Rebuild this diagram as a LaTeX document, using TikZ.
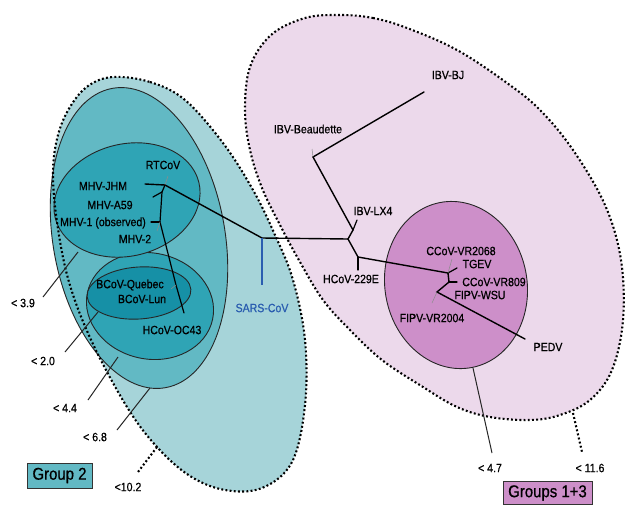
\documentclass[tikz,border=0pt]{standalone}
\usepackage{fontspec}
\setmainfont[FakeStretch=0.88,FakeBold=0.7]{Liberation Sans}
\definecolor{gtout}{HTML}{A6D4D9}
\definecolor{gtsix}{HTML}{62B9C4}
\definecolor{gtfour}{HTML}{2FA4B5}
\definecolor{gtmhv}{HTML}{2FA4B5}
\definecolor{gttwo}{HTML}{1690A6}
\definecolor{goout}{HTML}{ECD9EB}
\definecolor{goin}{HTML}{CD8FC9}
\definecolor{sarsblue}{HTML}{2A5DB0}
\begin{document}
\begin{tikzpicture}[x=1pt,y=-1pt,
  lbl/.style={font=\fontsize{12}{13}\selectfont,inner sep=0pt},
  thr/.style={font=\fontsize{12}{13}\selectfont,inner sep=0pt},
  grp/.style={font=\fontsize{17}{19}\selectfont,draw=black!80,line width=0.9pt,inner sep=0pt},
  branch/.style={line width=1.4pt,line cap=round},
  tick/.style={line width=0.5pt,draw=black!45},
  ring/.style={draw=black!85,line width=0.9pt},
  dotring/.style={draw=black,line width=2.1pt,dash pattern=on 1.9pt off 2.3pt},
  leader/.style={draw=black!85,line width=1pt},
  dotleader/.style={draw=black,line width=2.1pt,dash pattern=on 1.9pt off 2.3pt}]
\useasboundingbox (0,0) rectangle (626,504);
\fill[white] (0,0) rectangle (626,504);

% ---------- Group 2 regions ----------
\fill[gtout] plot[smooth cycle,tension=0.6] coordinates {
 (113,77) (150,82) (185,100) (223,143) (253,190) (275,235) (293,280) (305,340)
 (305,405) (292,462) (262,488) (225,490) (190,476) (157,447) (127,407)
 (92,342) (69,282) (57,222) (53,172) (58,135) (70,107) (88,86)};
\filldraw[ring,fill=gtsix,rotate around={10:(139,238)}] (139,238) ellipse [x radius=86, y radius=152];
\filldraw[ring,fill=gtfour,rotate around={-12:(150,306)}] (150,306) ellipse [x radius=64, y radius=53];
\filldraw[ring,fill=gtmhv,rotate around={14:(127,200)}] (127,200) ellipse [x radius=74, y radius=56];
\filldraw[ring,fill=gttwo,rotate around={4:(139,293)}] (139,293) ellipse [x radius=52, y radius=26];
\draw[dotring] plot[smooth cycle,tension=0.6] coordinates {
 (113,77) (150,82) (185,100) (223,143) (253,190) (275,235) (293,280) (305,340)
 (305,405) (292,462) (262,488) (225,490) (190,476) (157,447) (127,407)
 (92,342) (69,282) (57,222) (53,172) (58,135) (70,107) (88,86)};

% ---------- Groups 1+3 regions ----------
\fill[goout] plot[smooth cycle,tension=0.6] coordinates {
 (340,15) (373,18) (407,28) (457,50) (507,83) (540,110) (573,150) (605,205)
 (621,260) (623,320) (612,370) (590,400) (560,415) (530,420) (490,417)
 (457,407) (423,387) (382,360) (350,330) (323,300) (300,262) (280,225)
 (262,188) (250,150) (245,110) (250,67) (271,35) (305,18)};
\filldraw[ring,fill=goin,rotate around={11:(456,285)}] (456,285) ellipse [x radius=71, y radius=84];
\draw[dotring] plot[smooth cycle,tension=0.6] coordinates {
 (340,15) (373,18) (407,28) (457,50) (507,83) (540,110) (573,150) (605,205)
 (621,260) (623,320) (612,370) (590,400) (560,415) (530,420) (490,417)
 (457,407) (423,387) (382,360) (350,330) (323,300) (300,262) (280,225)
 (262,188) (250,150) (245,110) (250,67) (271,35) (305,18)};

% ---------- tree coordinates ----------
\coordinate (S) at (262,238);
\coordinate (SL) at (262,285);
\coordinate (N2) at (165,185);
\coordinate (jhm) at (145,184);
\coordinate (rtc) at (168,176);
\coordinate (A) at (162,192);
\coordinate (a59) at (153,197);
\coordinate (B) at (160,222);
\coordinate (m1) at (151,222);
\coordinate (m2) at (157,231);
\coordinate (C) at (176,285);
\coordinate (bq) at (171,289);
\coordinate (oc) at (184,313);
\coordinate (R1) at (348,239);
\coordinate (IB) at (353,230);
\coordinate (lx4) at (357,220);
\coordinate (Bn) at (313,157);
\coordinate (beau) at (312,149);
\coordinate (bj) at (424,92);
\coordinate (H) at (358,257);
\coordinate (e229) at (358,270);
\coordinate (G1) at (448,273);
\coordinate (tgev) at (457,268);
\coordinate (v2068) at (452,259);
\coordinate (G1b) at (449,282);
\coordinate (v809) at (457,282);
\coordinate (F) at (437,292);
\coordinate (v2004) at (432,303);
\coordinate (pedv) at (525,339);

% ---------- tree ----------
\draw[branch] (N2) -- (S) -- (R1);
\draw[line width=1.4pt,sarsblue] (S) -- (SL);
\draw[branch] (N2) -- (jhm);
\draw[tick] (N2) -- (rtc);
\draw[branch,line width=1.2pt] (N2) -- (A) -- (B) -- (C) -- (oc);
\draw[branch,line width=1.2pt] (A) -- (a59);
\draw[branch,line width=1.2pt] (B) -- (m1);
\draw[tick] (B) -- (m2);
\draw[tick] (C) -- (bq);
\draw[branch] (R1) -- (IB) -- (Bn) -- (bj);
\draw[branch,line width=1.2pt] (IB) -- (lx4);
\draw[tick] (Bn) -- (beau);
\draw[branch] (R1) -- (H) -- (G1) -- (G1b) -- (F) -- (pedv);
\draw[branch,line width=1.2pt] (H) -- (e229);
\draw[branch,line width=1.2pt] (G1) -- (tgev);
\draw[tick] (G1) -- (v2068);
\draw[branch,line width=1.2pt] (G1b) -- (v809);
\draw[tick] (F) -- (v2004);

% ---------- labels ----------
\node[lbl] (tRT) at (163,165) {RTCoV};
\node[lbl] (tJHM) at (103,186) {MHV-JHM};
\node[lbl] (tA59) at (110,205) {MHV-A59};
\node[lbl] (tM1) at (103,223) {MHV-1 (observed)};
\node[lbl] (tM2) at (135,239) {MHV-2};
\node[lbl] (tBQ) at (130,285) {BCoV-Quebec};
\node[lbl] (tBL) at (142,299) {BCoV-Lun};
\node[lbl] (tOC) at (172,330) {HCoV-OC43};
\node[lbl,text=sarsblue] (tSARS) at (262,308) {SARS-CoV};
\node[lbl] (tBJ) at (448,75) {IBV-BJ};
\node[lbl] (tBeau) at (308,129) {IBV-Beaudette};
\node[lbl] (tLX4) at (373,211) {IBV-LX4};
\node[lbl] (t229) at (351,279) {HCoV-229E};
\node[lbl] (t2068) at (461,251) {CCoV-VR2068};
\node[lbl] (tTG) at (477,264) {TGEV};
\node[lbl] (t809) at (494,282) {CCoV-VR809};
\node[lbl] (tWSU) at (480,295) {FIPV-WSU};
\node[lbl] (t2004) at (432,318) {FIPV-VR2004};
\node[lbl] (tPEDV) at (548,347) {PEDV};

% ---------- thresholds ----------
\node[thr] (h39) at (23,303) {< 3.9};
\node[thr] (h20) at (43,361) {< 2.0};
\node[thr] (h44) at (65,408) {< 4.4};
\node[thr] (h68) at (95,437) {< 6.8};
\node[thr] (h102) at (128,487) {<10.2};
\node[thr] (h47) at (490,468) {< 4.7};
\node[thr] (h116) at (590,468) {< 11.6};
\coordinate (l39a) at (78,252);  \coordinate (l39b) at (43,297);
\coordinate (l20a) at (98,312);  \coordinate (l20b) at (65,352);
\coordinate (l44a) at (118,357); \coordinate (l44b) at (88,400);
\coordinate (l68a) at (150,388); \coordinate (l68b) at (117,430);
\coordinate (l102a) at (157,447); \coordinate (l102b) at (138,472);
\coordinate (l47a) at (473,368); \coordinate (l47b) at (492,453);
\coordinate (l116a) at (573,413); \coordinate (l116b) at (582,452);
\draw[leader] (l39a) -- (l39b);
\draw[leader] (l20a) -- (l20b);
\draw[leader] (l44a) -- (l44b);
\draw[leader] (l68a) -- (l68b);
\draw[dotleader] (l102a) -- (l102b);
\draw[leader] (l47a) -- (l47b);
\draw[dotleader] (l116a) -- (l116b);

% ---------- group boxes ----------
\node[grp,fill=gtsix,minimum width=65pt,minimum height=25pt] (g2) at (59.5,475.5) {Group 2};
\node[grp,fill=goin,minimum width=89pt,minimum height=23pt] (g13) at (547.5,493) {Groups 1+3};
\end{tikzpicture}
\end{document}
